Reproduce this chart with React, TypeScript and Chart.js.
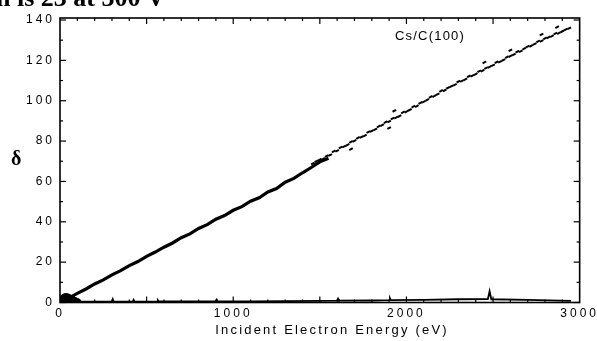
import React, { useEffect, useRef } from "react";
import { Chart, registerables } from "chart.js";

Chart.register(...registerables);

// ---- data ----
const xTickValues = [0, 1000, 2000, 3000];
const yTickValues = [0, 20, 40, 60, 80, 100, 120, 140];

// dense, low-energy part of the Cs/C(100) yield curve
const denseEnergy = [0, 50, 100, 150, 200, 250, 300, 350, 400, 450, 500, 550, 600, 650, 700, 750, 800, 850, 900, 950, 1000, 1050, 1100, 1150, 1200, 1250, 1300, 1350, 1400, 1450, 1500, 1550];
const denseDelta = [0, 2.2, 4.5, 6.7, 9.2, 11.2, 13.7, 15.8, 18.3, 20.3, 22.9, 25.0, 27.4, 29.5, 32.1, 34.0, 36.7, 38.6, 41.3, 43.1, 45.7, 47.5, 50.2, 51.9, 54.8, 56.5, 59.6, 61.5, 64.3, 66.9, 69.7, 71.5];

// scattered, high-energy part
const sparseEnergy = [1460, 1480, 1500, 1520, 1540, 1560, 1580, 1600, 1620, 1640, 1660, 1680, 1700, 1720, 1740, 1760, 1780, 1800, 1820, 1840, 1860, 1880, 1900, 1920, 1940, 1960, 1980, 2000, 2020, 2040, 2060, 2080, 2100, 2120, 2140, 2160, 2180, 2200, 2220, 2240, 2260, 2280, 2300, 2320, 2340, 2360, 2380, 2400, 2420, 2440, 2460, 2480, 2500, 2520, 2540, 2560, 2580, 2600, 2620, 2640, 2660, 2680, 2700, 2720, 2740, 2760, 2780, 2800, 2820, 2840, 2860, 2880, 2900, 2920, 2940, 1680, 1900, 1930, 2450, 2600, 2780, 2870];
const sparseDelta = [68.9, 70.0, 70.8, 71.2, 72.6, 73.1, 74.9, 75.2, 76.8, 77.3, 78.1, 79.6, 80.1, 81.6, 82.0, 82.7, 84.5, 85.0, 85.8, 87.3, 87.9, 89.4, 89.7, 91.2, 91.6, 92.4, 94.2, 94.6, 95.5, 97.1, 97.3, 98.9, 99.5, 100.4, 101.9, 102.3, 103.2, 104.9, 105.1, 106.4, 107.2, 107.9, 109.5, 109.8, 110.6, 112.1, 112.4, 113.2, 114.6, 114.9, 116.2, 116.8, 117.6, 119.1, 119.3, 120.2, 121.6, 122.1, 122.9, 124.3, 124.5, 125.8, 126.9, 127.2, 128.1, 129.4, 129.6, 130.9, 131.4, 132.0, 133.3, 133.5, 134.4, 135.3, 135.9, 76.0, 86.5, 95.0, 119.0, 125.0, 132.8, 136.5];

// blob of points at very low energy
const blobEnergy = [5, 15, 25, 35, 45, 55, 65, 75, 85, 95, 105, 20, 40, 60, 80, 30, 50, 70];
const blobDelta = [1.5, 2.5, 3.0, 3.2, 3.0, 2.6, 2.2, 1.8, 1.3, 0.9, 0.5, 1.0, 1.5, 1.2, 0.7, 0.4, 0.5, 0.4];

// background trace along the bottom axis
const baseEnergy = [120, 300, 305, 310, 420, 425, 430, 560, 565, 570, 700, 900, 905, 910, 1100, 1300, 1500, 1600, 1605, 1610, 1800, 1900, 1905, 1910, 2100, 2300, 2470, 2480, 2490, 2700, 2950];
const baseDelta = [0.4, 0.4, 1.6, 0.4, 0.4, 1.3, 0.4, 0.4, 1.1, 0.5, 0.5, 0.5, 1.4, 0.6, 0.6, 0.7, 0.8, 0.9, 1.9, 0.9, 1.0, 1.2, 2.1, 1.2, 1.3, 1.6, 1.7, 5.6, 1.6, 1.3, 0.8];

const pts = (xs: number[], ys: number[]) => xs.map((x, i) => ({ x, y: ys[i] }));

const frameTicks = {
  id: "frameTicks",
  beforeDraw(chart: any) {
    chart.ctx.letterSpacing = "3px";
  },
  afterDraw(chart: any) {
    const { ctx, chartArea: a, scales } = chart;
    ctx.save();
    ctx.letterSpacing = "0px";
    ctx.strokeStyle = "#000";
    ctx.lineWidth = 1.6;
    ctx.strokeRect(a.left, a.top, a.right - a.left, a.bottom - a.top);
    ctx.lineWidth = 1.2;
    const seg = (x1: number, y1: number, x2: number, y2: number) => {
      ctx.beginPath();
      ctx.moveTo(x1, y1);
      ctx.lineTo(x2, y2);
      ctx.stroke();
    };
    for (let v = 0; v <= 140; v += 10) {
      const py = scales.y.getPixelForValue(v);
      const len = v % 20 === 0 ? 6 : 3;
      seg(a.left, py, a.left + len, py);
      seg(a.right, py, a.right - len, py);
    }
    for (let v = 100; v < 3000; v += 100) {
      const px = scales.x.getPixelForValue(v);
      const len = v % 500 === 0 ? 6 : 3;
      seg(px, a.top, px, a.top + len);
      seg(px, a.bottom, px, a.bottom - len);
    }
    ctx.restore();
  },
};

export default function App() {
  const ref = useRef<HTMLCanvasElement>(null);

  useEffect(() => {
    const tickFont = { family: "'Liberation Sans', Arial, sans-serif", size: 12 };
    const chart = new Chart(ref.current as HTMLCanvasElement, {
      type: "scatter",
      data: {
        datasets: [
          {
            data: pts(baseEnergy, baseDelta),
            showLine: true,
            borderColor: "#000",
            borderWidth: 1.8,
            pointRadius: 0,
          },
          {
            data: pts(blobEnergy, blobDelta),
            showLine: false,
            backgroundColor: "#000",
            borderColor: "#000",
            pointRadius: 2.6,
          },
          {
            data: pts(denseEnergy, denseDelta),
            showLine: true,
            borderColor: "#000",
            borderWidth: 3.2,
            pointRadius: 0,
          },
          {
            data: pts(sparseEnergy, sparseDelta),
            showLine: false,
            pointStyle: "line",
            pointRotation: -28,
            pointRadius: 2.0,
            pointBorderWidth: 2.0,
            borderColor: "#000",
            backgroundColor: "#000",
          },
        ],
      } as any,
      options: {
        animation: false,
        responsive: false,
        events: [],
        layout: { padding: { top: 18, right: 13, left: 0, bottom: 0 } },
        plugins: { legend: { display: false }, tooltip: { enabled: false } },
        scales: {
          x: {
            type: "linear",
            min: 0,
            max: 3000,
            grid: { display: false, drawTicks: false },
            border: { display: false },
            afterBuildTicks: (s: any) => {
              s.ticks = xTickValues.map((v) => ({ value: v }));
            },
            afterFit: (s: any) => {
              s.height = 38.5;
            },
            ticks: {
              padding: 4,
              font: tickFont,
              color: "#000",
              maxRotation: 0,
              autoSkip: false,
              callback: (v: any) => String(v),
            },
          },
          y: {
            type: "linear",
            min: 0,
            max: 141,
            grid: { display: false, drawTicks: false },
            border: { display: false },
            afterBuildTicks: (s: any) => {
              s.ticks = yTickValues.map((v) => ({ value: v }));
            },
            afterFit: (s: any) => {
              s.width = 60;
            },
            ticks: { padding: 5, font: tickFont, color: "#000", autoSkip: false, callback: (v: any) => String(v) },
          },
        },
      } as any,
      plugins: [frameTicks],
    });
    return () => chart.destroy();
  }, []);

  return (
    <div
      style={{
        position: "fixed",
        left: 0,
        top: 0,
        width: 597,
        height: 341,
        overflow: "hidden",
        background: "#fff",
      }}
    >
      <canvas ref={ref} width={597} height={341} style={{ position: "absolute", left: 0, top: 0 }} />
      <div
        style={{
          position: "absolute",
          left: -4,
          top: -15,
          font: "bold 26px 'Liberation Serif', serif",
          lineHeight: "26px",
          whiteSpace: "nowrap",
          color: "#000",
        }}
      >
        n is 23 at 300 V
      </div>
      <div
        style={{
          position: "absolute",
          left: 11,
          top: 148,
          font: "bold 20px 'Liberation Serif', serif",
          lineHeight: "20px",
          color: "#000",
        }}
      >
        δ
      </div>
      <div
        style={{
          position: "absolute",
          left: 395,
          top: 28,
          font: "13px 'Liberation Sans', Arial, sans-serif",
          letterSpacing: "1.2px",
          lineHeight: "15px",
          whiteSpace: "nowrap",
          color: "#000",
        }}
      >
        Cs/C(100)
      </div>
      <div
        style={{
          position: "absolute",
          left: 332,
          top: 322,
          transform: "translateX(-50%)",
          font: "13px 'Liberation Sans', Arial, sans-serif",
          letterSpacing: "2.2px",
          lineHeight: "16px",
          whiteSpace: "nowrap",
          color: "#000",
        }}
      >
        Incident Electron Energy (eV)
      </div>
    </div>
  );
}
